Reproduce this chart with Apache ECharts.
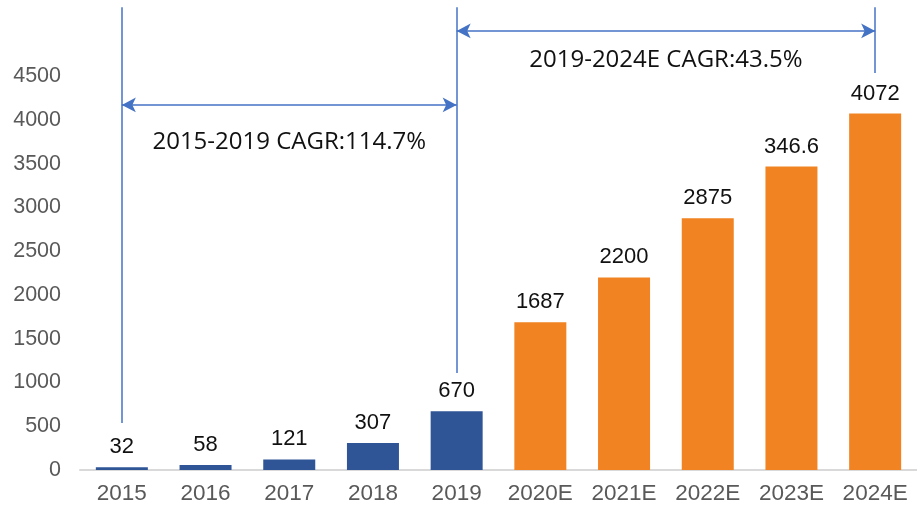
<!DOCTYPE html>
<html>
<head>
<meta charset="utf-8">
<script src="https://cdn.jsdelivr.net/npm/echarts@6/dist/echarts.min.js"></script>
<style>
html,body{margin:0;padding:0;background:#fff;}
#chart{width:917px;height:508px;}
</style>
</head>
<body>
<div id="chart"></div>
<script>
// Data
var categories = ['2015','2016','2017','2018','2019','2020E','2021E','2022E','2023E','2024E'];
var values = [32, 58, 121, 307, 670, 1687, 2200, 2875, 3466, 4072];
var valueLabels = ['32','58','121','307','670','1687','2200','2875','346.6','4072'];
var isForecast = [false,false,false,false,false,true,true,true,true,true];
var yTicksShownMax = 4500;
var cagrTexts = ['2015-2019 CAGR:114.7%', '2019-2024E CAGR:43.5%'];
// annotation anchor values (in data units)
var guideTop = 5285;
var guideBottoms = {'2015': 537, '2019': 1108, '2024E': 4534};
var arrowLevels = [4170, 5015];

var BLUE = '#2F5597', ORANGE = '#F28322', LINE = '#4472C4';

var chart = echarts.init(document.getElementById('chart'), null, {renderer:'canvas'});

var barData = values.map(function(v,i){
  return {value:v, itemStyle:{color: isForecast[i] ? ORANGE : BLUE}};
});

var arrowStyle = {symbol:'arrow', symbolSize:[11,14]};

var markData = [
  [{coord:['2015', guideTop]}, {coord:['2015', guideBottoms['2015']]}],
  [{coord:['2019', guideTop]}, {coord:['2019', guideBottoms['2019']]}],
  [{coord:['2024E', guideTop]}, {coord:['2024E', guideBottoms['2024E']]}],
  [Object.assign({coord:['2015', arrowLevels[0]], label:{show:true, formatter:cagrTexts[0], position:'insideMiddleBottom', distance:25}}, arrowStyle),
   Object.assign({coord:['2019', arrowLevels[0]]}, arrowStyle)],
  [Object.assign({coord:['2019', arrowLevels[1]], label:{show:true, formatter:cagrTexts[1], position:'insideMiddleBottom', distance:17}}, arrowStyle),
   Object.assign({coord:['2024E', arrowLevels[1]]}, arrowStyle)]
];

var option = {
  animation:false,
  backgroundColor:'#fff',
  grid:{left:80, top:6, width:840, height:464, containLabel:false},
  xAxis:{
    type:'category',
    data:categories,
    axisLine:{lineStyle:{color:'#D9D9D9', width:2}},
    axisTick:{show:false},
    axisLabel:{color:'#595959', fontSize:22.5, margin:12, interval:0, fontFamily:'Liberation Sans'}
  },
  yAxis:{
    type:'value',
    min:0, max:5300, interval:500,
    axisLine:{show:false},
    axisTick:{show:false},
    splitLine:{show:false},
    axisLabel:{color:'#595959', fontSize:21.5, margin:19, fontFamily:'Liberation Sans',
      formatter:function(v){ return v <= yTicksShownMax ? String(v) : ''; }}
  },
  series:[{
    type:'bar',
    data:barData,
    barWidth:52,
    label:{show:true, position:'top', distance:9, color:'#111', fontSize:22, fontFamily:'Liberation Sans',
      formatter:function(p){ return valueLabels[p.dataIndex]; }},
    markLine:{
      silent:true,
      symbol:['none','none'],
      lineStyle:{color:LINE, width:1.5, type:'solid'},
      label:{show:false, color:'#111', fontSize:24, fontFamily:'Open Sans'},
      emphasis:{disabled:true},
      data:markData
    }
  }]
};
chart.setOption(option);
</script>
</body>
</html>
